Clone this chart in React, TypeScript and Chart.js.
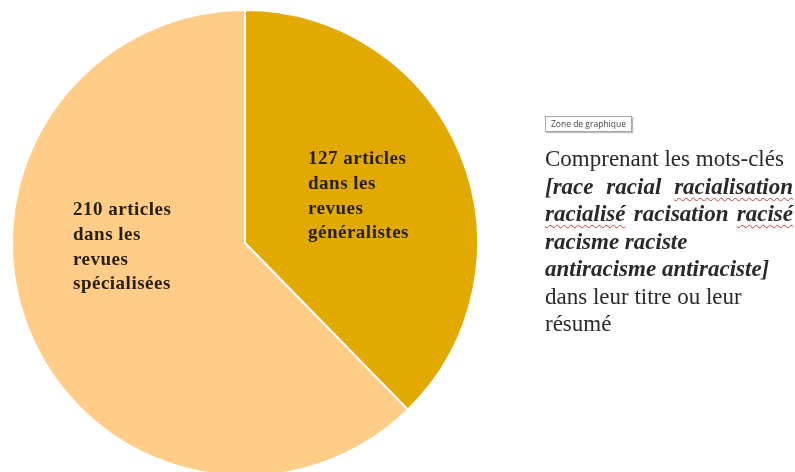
import React, { useEffect, useRef } from "react";
import { Chart, registerables } from "chart.js";

Chart.register(...registerables);

const categories = ["revues généralistes", "revues spécialisées"];
const articleCounts = [127, 210];
const sliceLabels = [
  ["127 articles", "dans les", "revues", "généralistes"],
  ["210 articles", "dans les", "revues", "spécialisées"],
];
const sliceColors = ["#E2AA00", "#FFCD88"];
const labelOffsets = [
  { dx: 63, dy: -84 },
  { dx: -172, dy: -33 },
];

const labelPlugin = {
  id: "sliceLabels",
  afterDatasetsDraw(chart: any) {
    const ctx = chart.ctx;
    const meta = chart.getDatasetMeta(0);
    ctx.save();
    ctx.fillStyle = "#2a2010";
    ctx.font = "bold 19px 'Liberation Serif', serif";
    try {
      (ctx as any).letterSpacing = "0.5px";
    } catch (e) {}
    ctx.textAlign = "left";
    ctx.textBaseline = "middle";
    meta.data.forEach((arc: any, i: number) => {
      const { x, y } = arc.getProps(["x", "y"], true);
      const off = labelOffsets[i];
      sliceLabels[i].forEach((line, j) => {
        ctx.fillText(line, x + off.dx, y + off.dy + j * 24.8);
      });
    });
    ctx.restore();
  },
};

const wavy: React.CSSProperties = {
  textDecorationLine: "underline",
  textDecorationStyle: "wavy",
  textDecorationColor: "#d33",
  textDecorationThickness: "1px",
  textUnderlineOffset: "3px",
};

export default function App() {
  const ref = useRef<HTMLCanvasElement>(null);
  useEffect(() => {
    document.body.style.margin = "0";
    const chart = new Chart(ref.current!, {
      type: "pie",
      data: {
        labels: categories,
        datasets: [
          {
            data: articleCounts,
            backgroundColor: sliceColors,
            borderColor: "#ffffff",
            borderWidth: 2,
          },
        ],
      },
      options: {
        responsive: false,
        animation: false,
        layout: { padding: { left: 11, top: 8, right: 316, bottom: 0 } },
        plugins: { legend: { display: false }, tooltip: { enabled: false } },
      },
      plugins: [labelPlugin],
    });
    return () => chart.destroy();
  }, []);

  const line: React.CSSProperties = { height: 27.5, lineHeight: "27.5px", whiteSpace: "nowrap" };
  const bi: React.CSSProperties = { fontWeight: "bold", fontStyle: "italic" };
  const just: React.CSSProperties = { textAlign: "justify", textAlignLast: "justify" as any };

  return (
    <div style={{ position: "relative", width: 795, height: 472, overflow: "hidden", background: "#fff" }}>
      <canvas ref={ref} width={795} height={478} style={{ position: "absolute", left: 0, top: 0 }} />
      <div
        style={{
          position: "absolute",
          left: 545,
          top: 116,
          padding: "1px 5px",
          border: "1px solid #a8a8a8",
          boxShadow: "1px 1px 1px #bbb",
          fontFamily: "'Open Sans', sans-serif",
          fontSize: 8.5,
          color: "#444",
          background: "#fff",
          lineHeight: "12px",
        }}
      >
        Zone de graphique
      </div>
      <div
        style={{
          position: "absolute",
          left: 545,
          top: 145,
          width: 248,
          fontFamily: "'Liberation Serif', serif",
          fontSize: 23,
          color: "#2a2a2a",
        }}
      >
        <div style={line}>Comprenant les mots-clés</div>
        <div style={{ ...line, ...bi, ...just, whiteSpace: "normal" }}>
          [race racial <span style={wavy}>racialisation</span>
        </div>
        <div style={{ ...line, ...bi, ...just, whiteSpace: "normal" }}>
          <span style={wavy}>racialisé</span> racisation <span style={wavy}>racisé</span>
        </div>
        <div style={{ ...line, ...bi }}>racisme raciste</div>
        <div style={{ ...line, ...bi }}>antiracisme antiraciste]</div>
        <div style={line}>dans leur titre ou leur</div>
        <div style={line}>résumé</div>
      </div>
    </div>
  );
}
